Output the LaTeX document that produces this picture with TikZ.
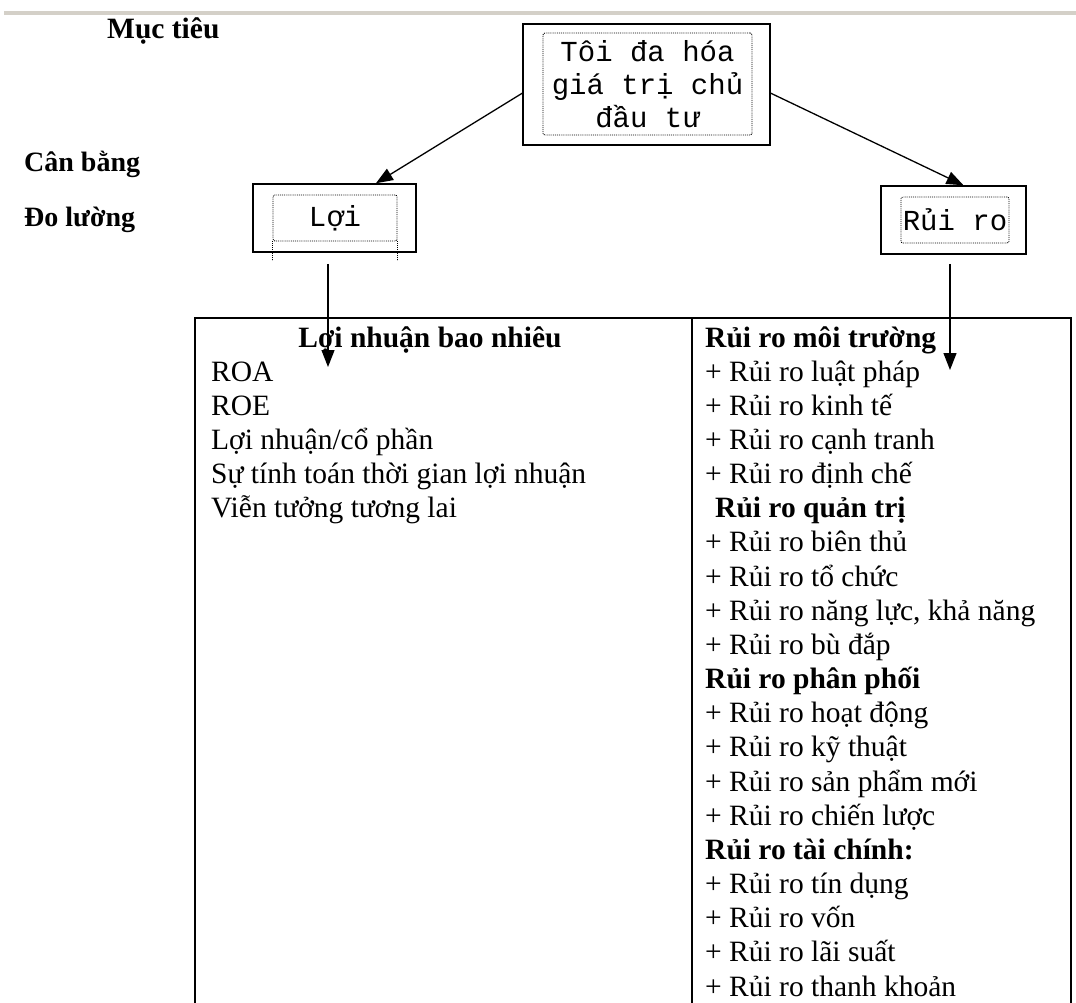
\documentclass[tikz,border=0pt]{standalone}
\usepackage{fontspec}
\setmainfont{Liberation Serif}
\newfontfamily\boxfont{Liberation Mono}
\usetikzlibrary{arrows.meta}
\definecolor{rulegray}{RGB}{212,208,200}

\begin{document}
\begin{tikzpicture}[x=1pt,y=-1pt,
    every node/.style={inner sep=0pt},
    outerbox/.style={draw,line width=1.5pt},
    innerbox/.style={draw,densely dotted,line width=.9pt,rounded corners=2pt,
      font=\boxfont\fontsize{29}{33}\selectfont,align=center},
    dotline/.style={densely dotted,line width=.9pt},
    sidelabel/.style={anchor=west,font=\bfseries\fontsize{28}{32}\selectfont},
    cell/.style={anchor=base west,font=\fontsize{29.5}{34}\selectfont},
    arr/.style={-{Triangle[length=17pt,width=13pt]},line width=1.3pt}]
  \useasboundingbox (0,0) rectangle (1076,1003);
  \draw[line width=4pt,rulegray] (4,13) -- (1076,13);
  % row labels
  \node[sidelabel,font=\bfseries\fontsize{29.5}{32}\selectfont] (muctieu) at (107,31) {Mục tiêu};
  \node[sidelabel] (canbang) at (24,164) {Cân bằng};
  \node[sidelabel] (doluong) at (24,220) {Đo lường};
  % goal
  \node[outerbox,minimum width=247pt,minimum height=121pt] (goal) at (646.5,84.5) {};
  \node[innerbox,minimum width=209pt,minimum height=102pt] (goalin) at (647.5,84)
    {Tôi đa hóa\\giá trị chủ\\đầu tư};
  % loi and rui ro
  \node[outerbox,minimum width=163pt,minimum height=68pt] (loi) at (334.5,218) {};
  \node[innerbox,minimum width=124pt,minimum height=46pt] (loiin) at (335,218) {Lợi};
  \draw[dotline] (loiin.south west) -- ++(0,19);
  \draw[dotline] (loiin.south east) -- ++(0,19);
  \node[outerbox,minimum width=145pt,minimum height=68pt] (rui) at (953.5,220) {};
  \node[innerbox,minimum width=108pt,minimum height=46pt] (ruiin) at (955,220) {Rủi ro};
  \draw[arr] (goal.184) -- (loi.40);
  \draw[arr] (goal.-4) -- (rui.74);
  % table
  \draw[line width=1.3pt] (195,1003) -- (195,318) -- (1071,318) -- (1071,1003);
  \draw[line width=1.3pt] (692,318) -- (692,1003);
  \node[cell,anchor=base,font=\bfseries\fontsize{29.5}{34}\selectfont] (loihead) at (430,347)
    {Lợi nhuận bao nhiêu};
  \foreach \txt [count=\i from 0] in {ROA, ROE, Lợi nhuận/cổ phần,
      Sự tính toán thời gian lợi nhuận, Viễn tưởng tương lai}
    \node[cell] (loi\i) at (211,381+\i*34.16) {\txt};
  \foreach \txt [count=\i from 0] in {\textbf{Rủi ro môi trường},
      + Rủi ro luật pháp, + Rủi ro kinh tế, + Rủi ro cạnh tranh, + Rủi ro định chế,
      \hspace{10pt}\textbf{Rủi ro quản trị},
      + Rủi ro biên thủ, + Rủi ro tổ chức, {+ Rủi ro năng lực, khả năng}, + Rủi ro bù đắp,
      \textbf{Rủi ro phân phối},
      + Rủi ro hoạt động, + Rủi ro kỹ thuật, + Rủi ro sản phẩm mới, + Rủi ro chiến lược,
      \textbf{Rủi ro tài chính:},
      + Rủi ro tín dụng, + Rủi ro vốn, + Rủi ro lãi suất, + Rủi ro thanh khoản}
    \node[cell] (risk\i) at (705,347+\i*34.16) {\txt};
  % down arrows into the table
  \coordinate (loitip) at (328,367);
  \coordinate (ruitip) at (950,370);
  \draw[arr] (loitip |- loi.south) ++(0,11) -- (loitip);
  \draw[arr] (ruitip |- rui.south) ++(0,9) -- (ruitip);
\end{tikzpicture}
\end{document}
